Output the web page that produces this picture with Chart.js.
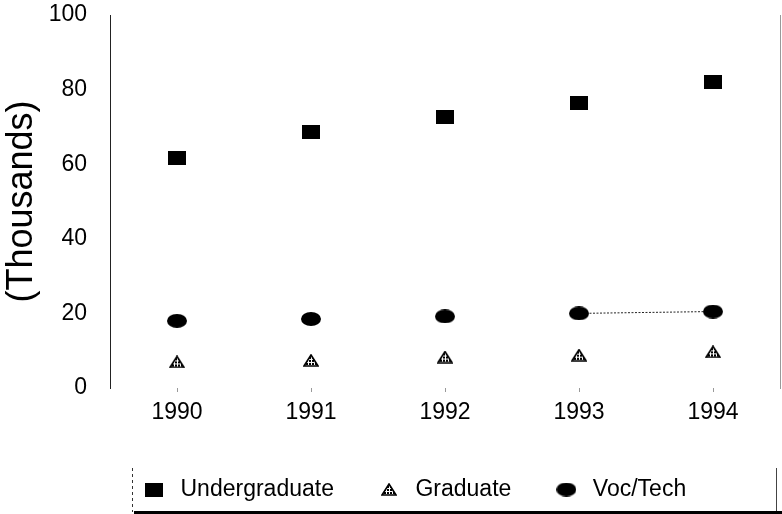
<!DOCTYPE html>
<html><head><meta charset="utf-8">
<script src="https://cdn.jsdelivr.net/npm/chart.js@4.4.1/dist/chart.umd.min.js"></script>
<style>html,body{margin:0;padding:0;background:#fff;} #wrap{width:782px;height:514px;}</style>
</head><body><div id="wrap"><canvas id="c" width="782" height="514"></canvas></div>
<script>
const categories = ['1990', '1991', '1992', '1993', '1994'];
const undergraduate = [61.7, 68.6, 72.7, 76.3, 82.0];
const graduate = [7.0, 7.4, 8.3, 8.8, 9.7];
const vocTech = [18.0, 18.5, 19.2, 20.0, 20.5];
const yTicks = [0, 20, 40, 60, 80, 100];
const seriesNames = ['Undergraduate', 'Graduate', 'Voc/Tech'];
const yTitle = '(Thousands)';

const FONT = '"Liberation Sans", Arial, sans-serif';
Chart.defaults.font.family = FONT;
Chart.defaults.color = '#000';

function mk(w, h, draw) { const c = document.createElement('canvas'); c.width = w; c.height = h; draw(c.getContext('2d'), w, h); return c; }
const squareImg = mk(18, 14, (x, w, h) => { x.fillStyle = '#000'; x.fillRect(0, 0, w, h); });
const ellipseImg = mk(20, 14, (x, w, h) => { x.fillStyle = '#000'; x.beginPath(); x.ellipse(w / 2, h / 2, w / 2, h / 2, 0, 0, Math.PI * 2); x.fill(); });
const triImg = mk(16, 13, (x, w, h) => {
  const pat = mk(3, 3, (q) => { q.fillStyle = '#fff'; q.fillRect(0, 0, 3, 3); q.fillStyle = '#000'; q.fillRect(0, 0, 2, 2); });
  x.beginPath(); x.moveTo(w / 2, 1); x.lineTo(w - 1, h - 1); x.lineTo(1, h - 1); x.closePath();
  x.fillStyle = x.createPattern(pat, 'repeat'); x.fill();
  x.lineWidth = 1.6; x.strokeStyle = '#000'; x.stroke();
});

const noPad = s => { s.paddingTop = 0; s.paddingBottom = 0; s.paddingLeft = 0; s.paddingRight = 0; };

const legendShift = {
  id: 'legendShift',
  afterLayout(chart) {
    const lg = chart.legend; const p = lg.options.labels.padding;
    lg.left = chart.chartArea.left + 29 - p;
  }
};
const frame = {
  id: 'frame',
  afterDraw(chart) {
    const { ctx, chartArea: a, legend: lg } = chart;
    const p = lg.options.labels.padding;
    const top = lg.top + p - 10, bottom = chart.height - 2;
    const left = a.left + 22, right = a.right - 4;
    const line = (x1, y1, x2, y2) => { ctx.beginPath(); ctx.moveTo(x1, y1); ctx.lineTo(x2, y2); ctx.stroke(); };
    ctx.save();
    ctx.strokeStyle = '#333'; ctx.lineWidth = 1; ctx.setLineDash([3, 3]);
    line(left + 0.5, top, left + 0.5, bottom);
    ctx.setLineDash([]); ctx.strokeStyle = '#444';
    line(right + 0.5, top, right + 0.5, bottom);
    ctx.lineWidth = 3; ctx.strokeStyle = '#000';
    line(left + 2, bottom + 0.5, chart.width, bottom + 0.5);
    ctx.restore();
  }
};

new Chart(document.getElementById('c'), {
  type: 'line',
  data: {
    labels: categories,
    datasets: [
      { label: seriesNames[0], data: undergraduate, pointStyle: squareImg, pointRadius: 9, showLine: false, borderColor: '#000', backgroundColor: '#000' },
      { label: seriesNames[1], data: graduate, pointStyle: triImg, pointRadius: 8, showLine: false, borderColor: '#000', backgroundColor: '#000' },
      { label: seriesNames[2], data: vocTech, pointStyle: ellipseImg, pointRadius: 9, showLine: true, borderWidth: 1, borderColor: '#222', backgroundColor: '#000',
        segment: { borderColor: c => c.p0DataIndex === 3 ? '#222' : 'rgba(0,0,0,0)', borderDash: () => [2, 1.5] } }
    ]
  },
  options: {
    responsive: false, animation: false, devicePixelRatio: 1,
    layout: { autoPadding: false, padding: { top: 15, right: 0, left: 0, bottom: 3 } },
    plugins: {
      legend: { position: 'bottom', align: 'start',
        labels: { usePointStyle: true, pointStyleWidth: 30, padding: 40, color: '#000', font: { family: FONT, size: 23 } } },
      tooltip: { enabled: false }
    },
    scales: {
      x: {
        offset: true,
        grid: { display: true, drawOnChartArea: false, offset: false, tickLength: 4, color: '#999' },
        border: { display: false },
        ticks: { padding: 7, color: '#000', font: { family: FONT, size: 23 } },
        afterFit: s => { noPad(s); s.height = 50; }
      },
      y: {
        min: 0, max: 100,
        afterBuildTicks: s => { s.ticks = yTicks.map(v => ({ value: v })); },
        grid: { display: false, drawTicks: false },
        border: { display: true, color: '#222', dash: [2, 3], width: 1 },
        ticks: { padding: 23, color: '#000', font: { family: FONT, size: 23 } },
        title: { display: true, text: yTitle, color: '#000', font: { family: FONT, size: 36 }, padding: { top: 0, bottom: 0 } },
        afterFit: s => { noPad(s); s.width = 110; }
      },
      y2: {
        position: 'right', min: 0, max: 100,
        grid: { display: false, drawTicks: false }, ticks: { display: false },
        border: { display: true, color: '#999', dash: [1, 7], width: 1 },
        afterFit: s => { noPad(s); s.width = 2; }
      }
    }
  },
  plugins: [legendShift, frame]
});
</script>
</body></html>
